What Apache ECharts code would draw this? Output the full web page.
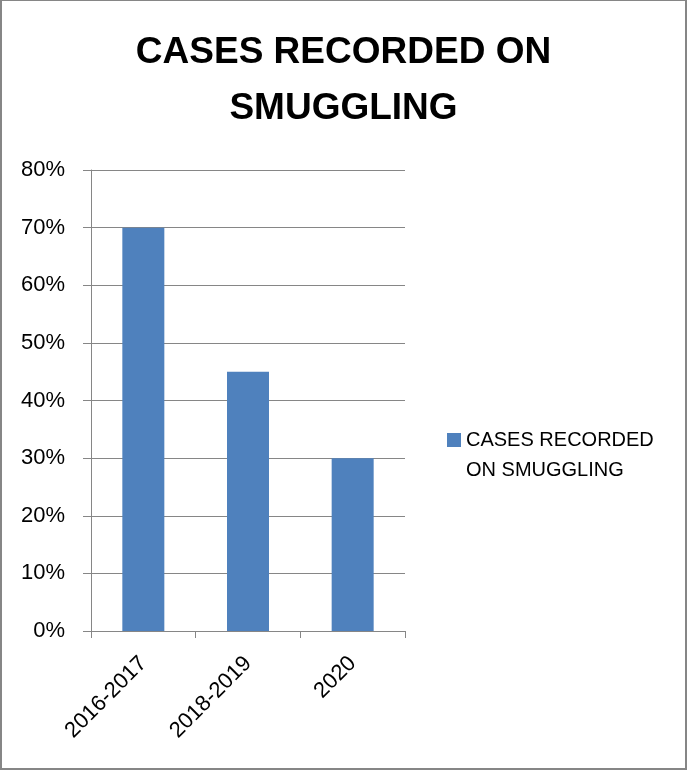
<!DOCTYPE html>
<html>
<head>
    <meta charset="utf-8">
    <title>CASES RECORDED ON SMUGGLING</title>
    <script src="https://cdn.jsdelivr.net/npm/echarts@6/dist/echarts.min.js"></script>
    <style>
        html, body { margin: 0; padding: 0; background: #fff; }
        #smuggleStat { width: 687px; height: 771px; }
    </style>
</head>
<body>
<div id="smuggleStat"></div>
<script>
    // data
    var categories = ['2016-2017', '2018-2019', '2020'];
    var seriesName = 'CASES RECORDED ON SMUGGLING';
    var caseValues = [70, 45, 30];
    var yTicks = [0, 10, 20, 30, 40, 50, 60, 70, 80];

    var gray = '#868686';
    var font = 'Liberation Sans';

    var myChart = echarts.init(document.getElementById('smuggleStat'));
    var option = {
        backgroundColor: '#fff',
        textStyle: { fontFamily: font },
        title: {
            text: 'CASES RECORDED ON\nSMUGGLING',
            left: 'center',
            top: 20,
            textStyle: {
                fontFamily: font,
                fontSize: 37,
                fontWeight: 'bold',
                lineHeight: 56,
                color: '#000'
            }
        },
        legend: {
            data: [seriesName],
            left: 442,
            top: 390,
            itemWidth: 14,
            itemHeight: 14,
            icon: 'rect',
            // blank first line keeps the marker level with the first text line
            formatter: function (name) {
                return '\nCASES RECORDED\nON SMUGGLING';
            },
            textStyle: {
                fontFamily: font,
                fontSize: 20,
                lineHeight: 30,
                color: '#000'
            }
        },
        grid: {
            left: 91,
            right: 282,
            top: 170,
            bottom: 140,
            containLabel: false
        },
        xAxis: {
            type: 'category',
            data: categories,
            axisLine: { lineStyle: { color: gray, width: 1 } },
            axisTick: { show: true, length: 7, alignWithLabel: false, lineStyle: { color: gray } },
            axisLabel: {
                rotate: 45,
                interval: 0,
                margin: 29,
                fontFamily: font,
                fontSize: 22,
                color: '#000'
            }
        },
        yAxis: {
            type: 'value',
            min: yTicks[0],
            max: yTicks[yTicks.length - 1],
            interval: 10,
            axisLine: { show: true, lineStyle: { color: gray, width: 1 } },
            axisTick: { show: true, length: 8, lineStyle: { color: gray } },
            splitLine: { lineStyle: { color: gray, width: 1 } },
            axisLabel: {
                formatter: '{value}%',
                margin: 26,
                fontFamily: font,
                fontSize: 22,
                color: '#000'
            }
        },
        series: [{
            name: seriesName,
            type: 'bar',
            data: caseValues,
            barWidth: 42,
            itemStyle: { color: '#4F81BD' }
        }],
        // outer frame of the chart
        graphic: [{
            type: 'rect',
            shape: { x: 1, y: 0, width: 685, height: 769 },
            style: { fill: null, stroke: gray, lineWidth: 2 },
            silent: true
        }]
    };
    myChart.setOption(option);
</script>
</body>
</html>
